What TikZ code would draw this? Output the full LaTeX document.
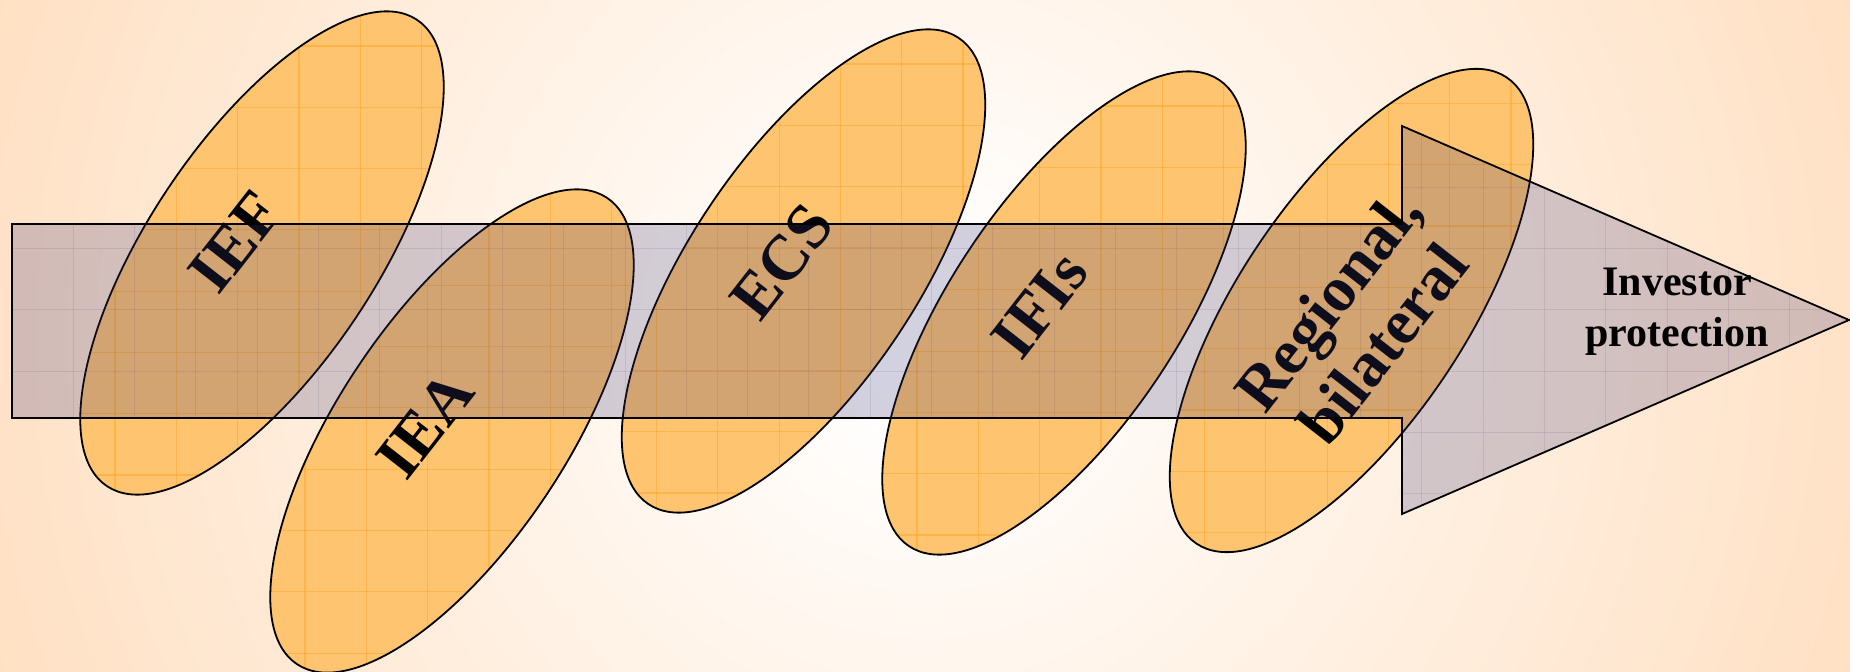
\documentclass[tikz,border=0pt]{standalone}
\usepackage{fontspec}
\setmainfont{Liberation Serif}
\definecolor{peach}{HTML}{FFE0C3}
\definecolor{ellfill}{HTML}{FFC470}
\definecolor{ellgrid}{HTML}{FFA726}
\definecolor{arrowtint}{RGB}{62,58,120}
\pgfdeclareradialshading{bgshade}{\pgfpoint{0bp}{0bp}}{color(0bp)=(white); color(30bp)=(white); color(495bp)=(peach)}
\begin{document}
\begin{tikzpicture}[x=0.5pt,y=-0.5pt,
  ovalfill/.style={fill=ellfill},
  ovalgrid/.style={draw=ellgrid, line width=0.6pt, opacity=0.55},
  ovalline/.style={draw=black, line width=0.9pt},
  arrowgrid/.style={draw=arrowtint, line width=0.5pt, opacity=0.12},
  lbl/.style={font=\fontsize{32}{35}\selectfont\bfseries, inner sep=0pt, text=black, align=center},
  lblsmall/.style={font=\fontsize{21}{25.5}\selectfont\bfseries, inner sep=0pt, text=black, align=center}]
\useasboundingbox (0,0) rectangle (1850,672);
\fill[peach] (0,0) rectangle (1850,672);
\begin{scope}
  \clip (0,0) rectangle (1850,672);
  \node[inner sep=0pt] (bg) at (925,336) {\pgfuseshading{bgshade}};
\end{scope}
% ovals
\foreach \cx/\cy in {262/253, 452/431, 803.5/271, 1064/313, 1351.5/310.5} {
  \fill[ovalfill, rotate around={56.4:(\cx,\cy)}] (\cx,\cy) ellipse [x radius=280, y radius=114];
  \begin{scope}
    \clip[rotate around={56.4:(\cx,\cy)}] (\cx,\cy) ellipse [x radius=280, y radius=114];
    \foreach \k in {0,...,6} \draw[ovalgrid] ({\cx-147+61.3*\k},{\cy-260}) -- ++(0,520);
    \foreach \k in {0,...,7} \draw[ovalgrid] ({\cx-200},{\cy-207+61.3*\k}) -- ++(400,0);
  \end{scope}
  \draw[ovalline, rotate around={56.4:(\cx,\cy)}] (\cx,\cy) ellipse [x radius=280, y radius=114];
}
% labels
\node[lbl, rotate=52] (tIEF) at (235,242) {IEF};
\node[lbl, rotate=52] (tIEA) at (425,425) {IEA};
\node[lbl, rotate=52] (tECS) at (782,262) {ECS};
\node[lbl, rotate=52] (tIFI) at (1040,305) {IFIs};
\node[lbl, rotate=52] (tReg) at (1355,322) {Regional,\\bilateral};
% arrow
\path[fill=arrowtint, fill opacity=0.23] (12,224) -- (1402,224) -- (1402,126) -- (1849,320) -- (1402,514) -- (1402,418) -- (12,418) -- cycle;
\begin{scope}
  \clip (12,224) -- (1402,224) -- (1402,126) -- (1849,320) -- (1402,514) -- (1402,418) -- (12,418) -- cycle;
  \foreach \k in {0,...,30} \draw[arrowgrid] ({12+61.3*\k},120) -- ++(0,400);
  \foreach \k in {0,...,6} \draw[arrowgrid] (10,{126+61.3*\k}) -- ++(1845,0);
\end{scope}
\draw[line width=0.9pt, line join=miter] (12,224) -- (1402,224) -- (1402,126) -- (1849,320) -- (1402,514) -- (1402,418) -- (12,418) -- cycle;
\node[lblsmall] (tInv) at (1677,312) {Investor\\protection};
\end{tikzpicture}
\end{document}
